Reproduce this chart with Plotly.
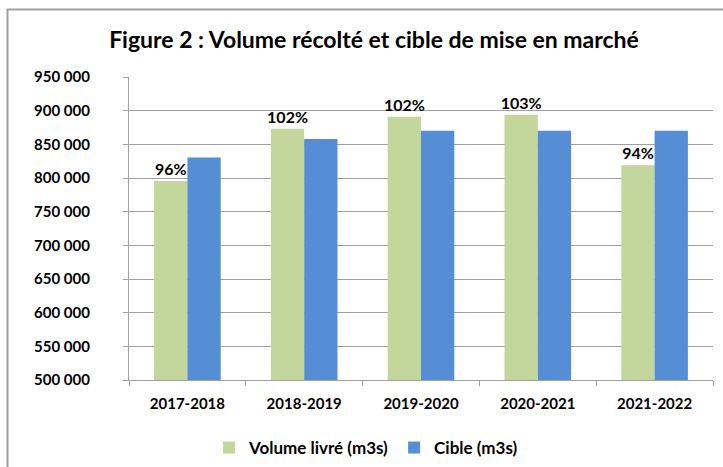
import plotly.graph_objects as go

categories = ["2017-2018", "2018-2019", "2019-2020", "2020-2021", "2021-2022"]
volume_livre = [795500, 873000, 891000, 894000, 819000]
cible = [830500, 858000, 870000, 870000, 870000]
pct_labels = ["96%", "102%", "102%", "103%", "94%"]
y_ticks = [500000, 550000, 600000, 650000, 700000, 750000, 800000, 850000, 900000, 950000]
y_tick_labels = ["500 000", "550 000", "600 000", "650 000", "700 000", "750 000",
                 "800 000", "850 000", "900 000", "950 000"]

FONT = "Lato"
fig = go.Figure()
fig.add_trace(go.Bar(
    x=categories, y=volume_livre, name="Volume livré (m3s)",
    marker=dict(color="#C3D69B", line=dict(width=0)),
    text=pct_labels, textposition="outside", cliponaxis=False,
    constraintext="none",
    textfont=dict(family=FONT, size=16, color="black", weight="bold"),
))
fig.add_trace(go.Bar(
    x=categories, y=cible, name="Cible (m3s)",
    marker=dict(color="#558ED5", line=dict(width=0)),
))

L, R, T, B = 129, 10, 77, 87
W, H = 723, 467
pw, ph = W - L - R, H - T - B

fig.update_layout(
    template="none",
    width=W, height=H,
    margin=dict(l=L, r=R, t=T, b=B, autoexpand=False),
    paper_bgcolor="white", plot_bgcolor="white",
    barmode="group", bargap=0.43, bargroupgap=0,
    title=dict(text="<b>Figure 2 : Volume récolté et cible de mise en marché</b>",
               x=374 / W, xanchor="center", y=1 - 40 / H, yanchor="middle",
               font=dict(family=FONT, size=23, color="black")),
    showlegend=True,
    legend=dict(orientation="h", x=(366 - L) / pw, xanchor="center",
                y=(380 - 448) / ph, yanchor="middle",
                font=dict(family=FONT, size=17, color="black", weight="bold"),
                itemwidth=30, traceorder="normal", bgcolor="rgba(0,0,0,0)"),
    font=dict(family=FONT, color="black"),
)
fig.update_yaxes(
    range=[500000, 950000], tickvals=y_ticks, ticktext=y_tick_labels,
    showgrid=True, gridcolor="#A0A0A0", gridwidth=1.3,
    showline=True, linecolor="#A0A0A0", linewidth=1.3,
    ticks="outside", ticklen=5, tickcolor="#A0A0A0", tickwidth=1.3,
    ticklabelstandoff=30, automargin=False,
    tickfont=dict(family=FONT, size=15, color="black", weight="bold"),
    zeroline=False,
)
fig.update_xaxes(
    showline=True, linecolor="#A0A0A0", linewidth=1.3,
    ticks="outside", ticklen=5, tickcolor="#A0A0A0", tickwidth=1.3,
    tickson="boundaries", showgrid=False, automargin=False,
    ticklabelstandoff=10,
    tickfont=dict(family=FONT, size=15, color="black", weight="bold"),
)
# outer chart border (only left/top edges fall inside the picture)
fig.add_shape(type="rect", xref="paper", yref="paper",
              x0=(7.5 - L) / pw, x1=(W + 60 - L) / pw,
              y0=(H - B - (H + 60)) / ph, y1=1 + (T - 9.5) / ph,
              line=dict(color="#A0A0A0", width=2), layer="below")

fig.write_html("out.html", config={"displayModeBar": False},
               post_script="document.body.style.margin='0';")
